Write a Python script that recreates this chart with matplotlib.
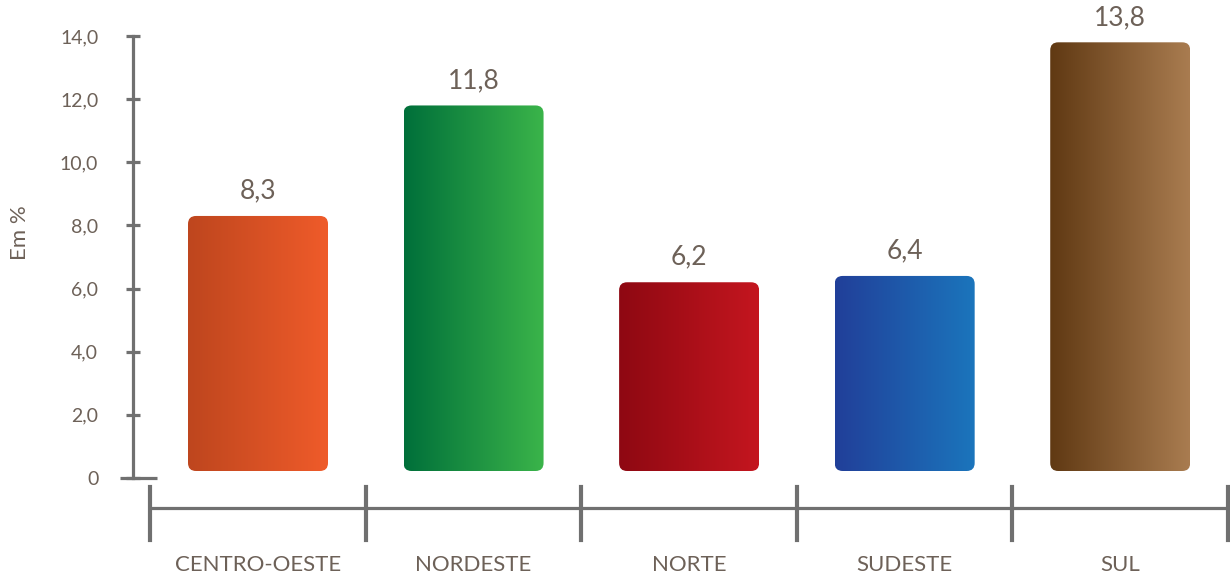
import matplotlib
matplotlib.use('Agg')

import numpy as np
import matplotlib.pyplot as plt
from matplotlib.patches import FancyBboxPatch

# Data
regions = ['CENTRO-OESTE', 'NORDESTE', 'NORTE', 'SUDESTE', 'SUL']
values = [8.3, 11.8, 6.2, 6.4, 13.8]
value_labels = ['8,3', '11,8', '6,2', '6,4', '13,8']
yticks = [0, 2, 4, 6, 8, 10, 12, 14]
ytick_labels = ['0', '2,0', '4,0', '6,0', '8,0', '10,0', '12,0', '14,0']
# left -> right gradient per bar
grad_colors = [('#BE461E', '#EF5B2A'),
               ('#006F3A', '#3BB54A'),
               ('#8E0812', '#C4161F'),
               ('#213F99', '#1B75BC'),
               ('#603913', '#A97C50')]

text_color = '#6D6158'
axis_color = '#707070'
plt.rcParams['font.family'] = ['Lato', 'DejaVu Sans']

W, H = 1230, 581
fig = plt.figure(figsize=(W / 100, H / 100), dpi=100)

# main axes: left spine at x=133px, y 0 at 478px, 14 at 36px
x0, x1 = 133, 1230
yb, yt = 478, 36
ax = fig.add_axes([x0 / W, (H - yb) / H, (x1 - x0) / W, (yb - yt) / H])
step = (1228 - 258) / 4.5
xmin = -(258 - x0) / step
xmax = 4.5 + 2 / step
ax.set_xlim(xmin, xmax)
ax.set_ylim(0, 14)

for s in ['top', 'right', 'bottom']:
    ax.spines[s].set_visible(False)
ax.spines['left'].set_color(axis_color)
ax.spines['left'].set_linewidth(2.3)
ax.set_xticks([])
ax.set_yticks(yticks, ytick_labels)
ax.tick_params(axis='y', direction='inout', length=10, width=2.3, color=axis_color,
               labelcolor=text_color, labelsize=14, pad=20)
ax.set_ylabel('Em %', color=text_color, fontsize=16)
ax.yaxis.set_label_coords(-(x0 - 30) / (x1 - x0), 0.555)

# short base segment at y=0
ax.plot([xmin - 13 / step, xmin + 24 / step], [0, 0],
        color=axis_color, lw=2.3, clip_on=False, solid_capstyle='butt')

# gradient bars with rounded corners
bar_w = 140 / step
xpp = 1 / step
ypp = 14 / (yb - yt)
bottom = 7 * ypp
grad = np.linspace(0, 1, 256).reshape(1, -1)
for i, (v, (c0, c1)) in enumerate(zip(values, grad_colors)):
    left = i - bar_w / 2
    patch = FancyBboxPatch((left, bottom), bar_w, v - bottom,
                           boxstyle='round,pad=0,rounding_size=%f' % (8 * xpp),
                           mutation_aspect=ypp / xpp, facecolor='none',
                           edgecolor='none')
    ax.add_patch(patch)
    cmap = matplotlib.colors.LinearSegmentedColormap.from_list('g%d' % i, [c0, c1])
    im = ax.imshow(grad, cmap=cmap, aspect='auto',
                   extent=[left, left + bar_w, bottom, v], zorder=2)
    im.set_clip_path(patch)
    ax.annotate(value_labels[i], (i, v), xytext=(0, 9), textcoords='offset points',
                ha='center', va='bottom', color=text_color, fontsize=19,
                annotation_clip=False)

ax.set_xlim(xmin, xmax)
ax.set_ylim(0, 14)

# category axis below
cy0, cy1 = 487, 540
axc = fig.add_axes([x0 / W, (H - cy1) / H, (x1 - x0) / W, (cy1 - cy0) / H])
axc.set_xlim(xmin, xmax)
axc.set_ylim(0, 1)
axc.axis('off')
axc.plot([-0.5, xmax + 1], [0.6, 0.6], color=axis_color, lw=2.3, clip_on=False)
for b in np.arange(len(regions) + 1) - 0.5:
    axc.plot([b, b], [0, 1], color=axis_color, lw=3, clip_on=False)
for i, r in enumerate(regions):
    axc.text(i, -0.47, r, ha='center', va='center', color=text_color, fontsize=16)

fig.savefig('out.png', dpi=100)
